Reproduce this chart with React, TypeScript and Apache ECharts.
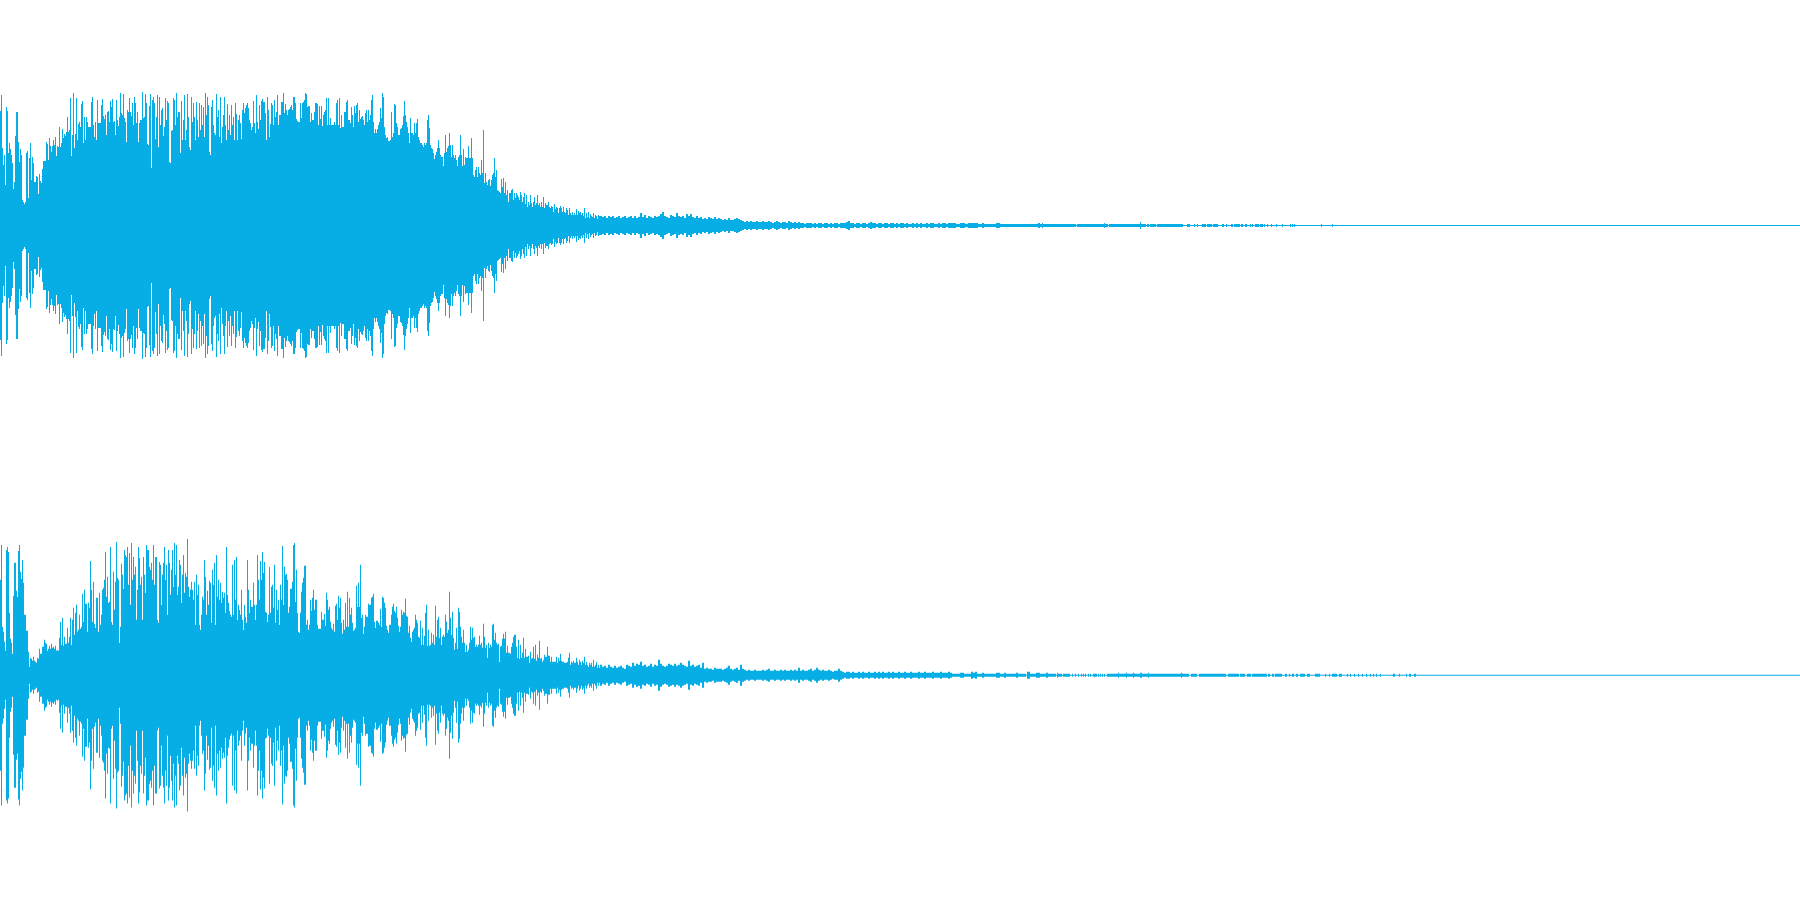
import React, { useEffect, useRef } from "react";
import * as echarts from "echarts";

// Peak amplitude per pixel column (symmetric about each channel's centre line)
const upperPeaks = [
114,130,77,60,70,40,118,114,72,82,76,70,62,36,43,89,113,113,83,63,
76,70,25,23,21,23,72,74,27,67,82,45,68,62,43,43,49,48,31,51,
44,42,56,64,64,64,83,81,65,87,79,73,79,85,80,88,69,79,78,98,
78,82,96,87,91,89,93,108,93,95,127,69,90,132,77,91,127,85,101,103,
98,121,124,82,108,85,108,103,98,98,98,123,128,100,88,103,85,125,102,102,
102,120,126,109,106,110,90,113,114,103,124,118,126,103,104,90,125,105,99,108,
132,112,110,131,107,103,83,115,113,127,113,109,122,100,128,122,102,113,83,102,
105,105,133,107,108,131,122,81,80,119,131,57,125,128,122,86,108,130,78,128,
100,115,117,89,98,127,105,124,122,63,62,94,95,127,125,100,132,108,113,113,
72,124,85,105,130,85,95,131,108,78,75,128,103,122,108,85,123,105,88,122,
95,120,100,118,88,132,110,128,120,73,70,118,125,100,92,90,131,108,115,88,
128,82,98,110,128,100,85,121,95,110,90,120,100,108,85,122,111,85,105,110,
102,86,115,122,112,117,120,122,117,105,102,95,98,124,102,92,130,103,96,120,
105,124,126,123,123,112,85,128,115,88,101,122,120,100,125,108,113,130,100,110,
110,123,123,132,112,121,115,110,115,116,118,120,115,128,128,122,106,104,103,103,
122,107,122,123,125,132,131,118,119,119,103,112,105,105,113,122,122,121,100,119,
106,119,99,110,113,115,127,100,127,100,107,100,100,100,103,100,122,125,100,127,
97,110,98,98,113,113,123,125,105,105,102,118,110,98,119,112,120,122,103,115,
106,108,109,105,100,112,115,103,115,105,110,125,130,103,92,96,92,96,100,103,
117,107,132,128,98,90,87,88,84,84,85,113,88,92,121,120,102,98,90,90,
96,97,100,109,124,110,103,98,92,82,107,92,92,90,102,92,102,106,88,85,
82,82,80,78,82,80,82,105,110,97,80,77,76,72,66,70,73,77,85,77,
70,68,68,59,72,90,73,77,79,92,80,68,80,70,67,70,65,59,68,70,
90,70,59,76,60,68,67,67,79,67,67,87,67,50,48,55,58,48,58,52,
50,65,52,95,42,52,43,40,45,46,39,45,50,52,67,48,55,35,34,33,
32,46,38,47,32,43,30,35,23,32,32,35,36,25,32,27,32,30,28,25,
33,30,23,28,32,21,30,18,23,20,30,22,18,23,28,20,22,30,20,22,
18,23,18,28,17,22,20,20,23,18,17,19,18,13,21,16,18,17,12,17,
19,17,13,18,13,12,17,15,10,17,12,10,13,10,12,10,16,10,14,12,
13,10,12,9,17,7,12,8,13,7,11,9,8,12,7,10,9,6,10,9,
];
const upperTail = [
9,8,9,7,9,8,9,7,8,9,7,8,9,7,8,9,7,9,7,8,
12,8,10,7,9,8,7,9,8,9,11,13,9,8,7,10,9,8,12,9,
8,9,7,11,9,11,8,7,9,7,8,6,7,6,8,7,6,8,6,7,
6,5,6,5,7,5,5,6,7,6,5,4,3,4,3,4,3,3,4,3,
3,4,3,3,4,3,2,3,4,3,2,3,3,2,4,3,2,3,2,3,
2,2,1,2,2,2,1,2,1,2,2,1,2,2,1,2,1,2,2,1,
2,2,2,3,4,2,2,1,2,2,1,2,2,1,2,3,2,2,1,2,
2,1,2,2,1,2,2,1,2,1,2,2,1,2,1,1,2,1,2,1,
2,1,1,2,1,2,2,1,1,2,1,2,2,1,2,
];
const upperRuns = [
[950,956,2],[956,960,1],[960,965,2],[965,968,1],[968,974,2],[974,978,2],[978,982,1],[982,984,2],[984,992,1],
[992,996,1],[996,1000,2],[1000,1002,1],[1002,1006,1],[1006,1038,1],[1038,1040,2],[1040,1042,1],[1042,1043,2],[1043,1076,1],
[1077,1104,1],[1104,1105,2],[1105,1108,1],[1109,1140,1],[1140,1141,3],[1141,1146,1],[1147,1149,1],[1150,1156,1],[1157,1183,1],
[1187,1190,1],[1194,1195,1],[1197,1198,1],[1202,1206,1],[1207,1212,1],[1213,1218,1],[1222,1224,1],[1226,1227,1],[1231,1233,1],
[1234,1240,1],[1241,1243,1],[1245,1247,1],[1250,1251,1],[1252,1253,1],[1255,1259,1],[1260,1263,1],[1264,1265,1],[1267,1268,1],
[1271,1272,1],[1276,1277,1],[1282,1283,1],[1290,1291,1],[1292,1293,1],[1294,1295,1],[1321,1322,1],[1332,1333,1],
];

const lowerPeaks = [
95,130,48,43,33,24,125,128,123,62,36,32,21,79,112,112,84,78,124,130,
103,96,115,92,60,60,44,44,23,8,17,16,14,18,14,13,12,17,16,26,
21,21,28,28,35,32,31,24,26,29,26,31,27,28,26,29,24,25,24,37,
53,30,57,29,38,31,31,47,32,38,57,30,55,67,40,62,70,43,45,60,
46,48,81,53,85,71,71,43,72,67,114,85,53,93,51,47,77,77,43,82,
50,60,85,87,95,123,78,98,72,73,128,53,50,103,65,93,133,97,95,32,
48,111,100,86,125,120,118,128,90,122,70,132,95,118,100,108,55,85,128,117,
90,98,55,118,100,82,130,125,125,108,105,112,95,130,90,118,118,55,52,113,
110,70,100,112,128,95,110,60,125,112,80,105,125,88,132,100,130,80,88,115,
110,72,100,120,82,102,98,136,88,78,85,93,85,75,93,50,100,80,90,50,
45,60,78,75,115,98,60,84,70,94,92,52,105,90,112,50,120,78,95,75,
92,72,83,77,82,62,128,80,72,64,60,58,110,60,115,75,118,55,70,65,
60,85,55,45,70,58,52,115,85,62,75,68,68,92,70,55,70,120,95,75,
114,95,123,102,113,63,62,53,60,108,62,88,90,67,110,52,85,65,75,50,
90,75,129,70,108,100,101,95,62,68,86,86,93,130,132,73,105,62,43,42,
62,83,92,97,109,109,50,55,45,50,75,64,77,85,65,75,75,50,46,46,
46,63,55,55,61,49,82,75,65,68,53,47,45,51,43,69,71,55,79,67,
77,52,41,55,45,72,48,83,48,77,60,67,52,44,45,47,89,68,92,68,
110,57,60,41,48,60,58,58,71,70,70,77,78,81,53,47,54,54,52,50,
66,48,78,77,72,67,49,45,42,50,50,60,68,71,64,62,68,57,49,43,
48,65,60,63,62,76,59,58,42,49,37,33,43,45,47,60,55,52,38,37,
54,30,47,30,39,62,70,29,45,29,30,42,32,40,30,69,38,55,58,37,
47,30,38,40,38,60,53,42,45,83,57,40,63,37,25,32,47,26,67,63,
48,38,32,45,32,23,30,23,25,32,48,35,47,37,38,28,30,28,30,39,
30,32,27,51,38,27,30,17,32,27,30,28,50,51,35,42,32,30,31,13,
28,29,36,41,36,43,22,29,22,22,21,28,32,38,40,40,28,17,35,16,
30,17,22,37,17,26,18,18,19,12,23,16,17,28,16,30,14,20,17,34,
16,17,13,15,20,18,18,28,19,19,13,18,13,13,13,13,18,12,17,14,
21,14,13,13,12,12,12,13,17,22,10,13,12,14,12,12,17,13,10,15,
13,10,14,12,18,10,13,10,8,12,10,12,8,15,8,10,13,7,10,7,
];
const lowerTail = [
10,8,9,7,10,8,7,9,7,8,9,7,6,10,9,8,12,9,11,10,
13,9,10,8,9,11,8,10,9,15,11,9,8,9,11,10,9,11,9,10,
12,10,9,8,14,9,10,8,9,10,7,12,6,7,6,6,5,7,6,6,
6,5,6,7,9,6,5,6,7,5,10,6,5,4,5,4,4,5,4,4,
4,5,4,5,6,4,4,5,4,4,5,4,5,4,4,5,4,5,4,7,
4,5,4,4,5,6,4,5,7,5,4,5,4,4,5,4,3,4,4,6,
4,3,2,3,3,2,3,2,2,3,2,3,2,2,3,2,2,3,2,3,
2,3,2,2,3,2,3,2,2,3,2,2,3,2,2,3,2,2,2,3,
2,2,3,2,2,2,3,2,2,2,3,2,2,2,3,
];
const lowerRuns = [
[950,952,2],[952,960,1],[960,964,2],[964,971,1],[971,973,3],[973,975,2],[975,977,3],[977,982,1],[982,984,2],[984,990,1],
[990,996,1],[996,1000,2],[1000,1004,1],[1004,1006,2],[1006,1016,1],[1016,1018,2],[1018,1026,1],[1027,1030,3],[1030,1036,1],
[1036,1040,2],[1040,1046,1],[1046,1048,2],[1048,1056,1],[1057,1058,2],[1058,1062,1],[1063,1070,1],[1072,1073,1],[1075,1076,1],
[1078,1079,1],[1081,1082,1],[1083,1084,1],[1085,1086,1],[1088,1089,1],[1090,1091,1],[1093,1097,1],[1098,1099,1],[1100,1101,1],
[1102,1103,1],[1104,1105,1],[1107,1118,1],[1118,1119,2],[1119,1126,1],[1126,1127,2],[1127,1133,1],[1133,1134,2],[1134,1140,1],
[1140,1142,2],[1142,1148,1],[1148,1149,2],[1149,1181,1],[1181,1182,2],[1182,1189,1],[1191,1197,1],[1199,1226,1],[1228,1239,1],
[1240,1245,1],[1247,1251,1],[1252,1267,1],[1268,1270,1],[1272,1274,1],[1275,1282,1],[1285,1287,1],[1289,1290,1],[1292,1294,1],
[1296,1298,1],[1300,1305,1],[1307,1310,1],[1315,1320,1],[1325,1326,1],[1329,1330,1],[1332,1337,1],[1339,1342,1],[1347,1348,1],
[1350,1351,1],[1354,1355,1],[1358,1359,1],[1362,1363,1],[1366,1367,1],[1370,1371,1],[1373,1374,1],[1376,1377,1],[1380,1381,1],
[1393,1395,1],[1399,1400,1],[1406,1407,1],[1409,1411,1],[1414,1416,1],
];

const TAIL_START = 600;
const TAIL_STEP = 2;
const FULL_WIDTH = 1800;
const BLUE = "#06aee5";

function columns(peaks: number[], tail: number[], runs: number[][]) {
  return [
    [0, FULL_WIDTH, 0],
    ...peaks.map((a, i) => [i, i + 1, a]),
    ...tail.map((a, i) => [TAIL_START + i * TAIL_STEP, TAIL_START + (i + 1) * TAIL_STEP, a]),
    ...runs,
  ];
}

function renderColumn(params: any, api: any) {
  const a = api.value(2);
  const p0 = api.coord([api.value(0), a]);
  const p1 = api.coord([api.value(1), -a]);
  return {
    type: "rect",
    shape: { x: p0[0], y: p0[1] - 0.5, width: p1[0] - p0[0], height: p1[1] - p0[1] + 1 },
    style: { fill: BLUE },
    silent: true,
  };
}

export default function App() {
  const ref = useRef<HTMLDivElement>(null);
  useEffect(() => {
    const chart = echarts.init(ref.current!, undefined, { renderer: "svg" });
    const hiddenX = (gridIndex: number) => ({ type: "value", gridIndex, min: 0, max: FULL_WIDTH, show: false });
    const hiddenY = (gridIndex: number) => ({ type: "value", gridIndex, min: -225, max: 225, show: false });
    chart.setOption({
      animation: false,
      backgroundColor: "#ffffff",
      grid: [
        { left: 0, width: FULL_WIDTH, top: 0.5, height: 450 },
        { left: 0, width: FULL_WIDTH, top: 450.5, height: 450 },
      ],
      xAxis: [hiddenX(0), hiddenX(1)],
      yAxis: [hiddenY(0), hiddenY(1)],
      series: [
        {
          type: "custom", xAxisIndex: 0, yAxisIndex: 0, clip: false, silent: true,
          renderItem: renderColumn, encode: { x: [0, 1], y: 2 },
          data: columns(upperPeaks, upperTail, upperRuns),
        },
        {
          type: "custom", xAxisIndex: 1, yAxisIndex: 1, clip: false, silent: true,
          renderItem: renderColumn, encode: { x: [0, 1], y: 2 },
          data: columns(lowerPeaks, lowerTail, lowerRuns),
        },
      ],
    });
    return () => chart.dispose();
  }, []);
  return <div ref={ref} style={{ position: "fixed", left: 0, top: 0, width: 1800, height: 900 }} />;
}
